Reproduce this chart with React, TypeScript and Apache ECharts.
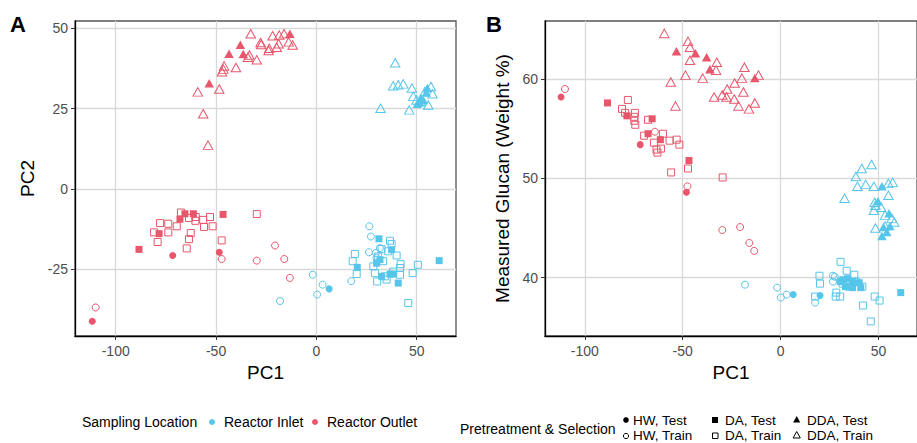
import React, { useEffect, useRef } from "react";
import * as echarts from "echarts";

const RED = "#E8566C";
const BLUE = "#56C5EA";
const FONT = '"Liberation Sans", Arial, sans-serif';

const X_TICKS = [-100, -50, 0, 50];
const YA_TICKS = [-25, 0, 25, 50];
const YB_TICKS = [40, 50, 60];

// ---------- Panel A: PC1 vs PC2 ----------
const aOutletDDATrain = [[-32.7,48.3],[-27.8,45.6],[-27.5,45.0],[-21.8,47.7],[-18.5,47.9],[-16.1,48.3],[-18.8,45.2],[-19.8,44.1],[-23.5,43.8],[-23.8,43.1],[-13.8,45.8],[-11.8,44.8],[-33.4,41.7],[-34.1,41.0],[-29.7,40.2],[-40.1,37.8],[-46.0,38.3],[-46.4,37.3],[-47.0,36.5],[-48.4,31.1],[-59.1,30.2],[-56.4,23.4],[-54.0,13.6]];
const aOutletDDATest = [[-13.2,48.3],[-37.9,44.9],[-43.5,42.1],[-36.4,42.0],[-53.4,32.9]];
const aInletDDATrain = [[39.3,39.3],[32.0,25.1],[38.3,32.1],[40.8,32.4],[43.3,32.7],[47.6,31.4],[48.3,28.8],[46.3,24.6],[57.1,31.9],[57.9,29.6],[55.8,26.1],[52.0,27.2],[50.0,27.7],[54.1,30.3]];
const aInletDDATest = [[55.3,31.4],[52.0,28.3],[50.3,26.5],[53.3,27.7],[54.8,30.0],[51.5,27.0]];
const aOutletDATrain = [[-67.5,-7.4],[-63.5,-9.1],[-60.1,-8.8],[-56.4,-9.7],[-53.0,-8.8],[-60.3,-10.0],[-29.7,-7.9],[-77.9,-10.7],[-73.8,-10.9],[-69.6,-11.7],[-56.0,-11.9],[-51.7,-11.7],[-80.9,-13.6],[-73.8,-13.6],[-62.6,-13.8],[-63.5,-15.7],[-79.1,-16.6],[-47.2,-16.1],[-64.6,-18.6]];
const aOutletDATest = [[-65.5,-7.8],[-61.3,-7.8],[-68.0,-9.5],[-46.5,-8.0],[-78.4,-14.0],[-88.4,-18.9]];
const aOutletHWTrain = [[-47.2,-21.9],[-29.7,-22.4],[-20.6,-17.7],[-16.0,-21.9],[-13.2,-27.8],[-110.0,-37.0]];
const aOutletHWTest = [[-71.6,-20.8],[-48.4,-19.8],[-111.7,-41.3]];
const aInletHWTrain = [[26.4,-11.7],[27.2,-14.9],[26.2,-19.8],[-1.8,-26.8],[3.1,-29.9],[0.4,-33.0],[-18.1,-35.0],[17.4,-28.8],[29.7,-20.0],[31.7,-18.5],[30.0,-21.5]];
const aInletHWTest = [[6.4,-31.2]];
const aInletDATrain = [[36.7,-16.2],[37.5,-17.2],[19.2,-20.3],[18.1,-22.6],[20.1,-26.6],[40.0,-20.8],[42.0,-23.5],[41.7,-24.7],[50.6,-23.7],[48.0,-26.3],[28.4,-24.2],[29.2,-26.3],[30.3,-28.9],[35.0,-28.3],[45.8,-35.6],[30.8,-21.1],[33.3,-22.6],[35.8,-19.5],[38.3,-25.8],[32.5,-18.8],[34.2,-27.3],[41.7,-26.8]];
const aInletDATest = [[31.2,-15.6],[37.5,-19.0],[20.4,-24.5],[31.7,-22.1],[32.5,-27.3],[36.7,-26.6],[38.3,-26.6],[40.8,-29.4],[61.2,-22.4],[30.0,-23.2]];

// ---------- Panel B: PC1 vs Measured Glucan ----------
const bOutletDDATrain = [[-59.4,64.6],[-47.3,63.8],[-46.3,63.2],[-46.3,61.9],[-48.6,60.4],[-56.1,59.7],[-53.7,57.3],[-39.8,60.1],[-32.6,61.7],[-33.0,60.9],[-18.5,61.2],[-19.8,60.1],[-11.3,60.4],[-23.5,59.6],[-27.3,59.0],[-19.0,58.7],[-34.0,58.2],[-29.8,58.4],[-27.6,58.2],[-23.7,58.0],[-21.5,57.3],[-16.2,57.0],[-13.2,57.6]];
const bOutletDDATest = [[-53.2,62.8],[-43.5,62.6],[-37.8,62.2],[-36.1,61.0],[-13.2,60.1]];
const bOutletDATrain = [[-78.0,57.9],[-81.0,57.0],[-79.4,56.6],[-74.4,56.6],[-74.7,56.2],[-74.7,55.8],[-74.2,55.4],[-67.7,55.9],[-60.1,54.5],[-64.7,53.6],[-63.4,52.9],[-62.9,52.6],[-61.1,53.0],[-56.7,53.8],[-53.1,53.9],[-51.7,53.4],[-69.7,54.3],[-47.3,51.0],[-55.9,50.6],[-29.6,50.1]];
const bOutletDATest = [[-88.4,57.6],[-78.5,56.3],[-65.6,56.0],[-67.7,54.5],[-61.4,53.9],[-46.8,51.8]];
const bOutletHWTrain = [[-110.1,59.0],[-64.2,54.7],[-47.6,49.2],[-29.8,44.8],[-20.7,45.1],[-16.0,43.5],[-13.5,42.7]];
const bOutletHWTest = [[-112.1,58.2],[-71.7,53.4],[-48.1,48.6]];
const bInletHWTrain = [[-1.8,39.0],[0.1,38.0],[3.1,38.3],[17.6,37.5],[-18.2,39.3],[26.7,40.2],[27.6,40.1],[26.7,39.6]];
const bInletHWTest = [[6.4,38.3],[20.1,38.2]];
const bInletDATrain = [[30.6,41.6],[19.8,40.2],[20.1,39.4],[17.6,38.1],[33.7,40.7],[37.6,40.3],[41.7,39.1],[28.4,38.5],[30.4,38.1],[28.1,38.1],[42.0,37.2],[48.0,38.1],[50.5,37.7],[46.0,35.6],[31.7,39.4],[35.1,39.1],[38.4,39.6]];
const bInletDATest = [[61.3,38.5],[31.7,39.8],[34.2,39.9],[36.7,39.6],[40.1,39.5],[33.1,39.1],[40.9,39.0],[36.7,39.0],[30.4,39.6]];
const bInletDDATrain = [[46.4,51.4],[41.4,51.0],[38.4,50.2],[39.2,49.2],[43.4,49.4],[47.6,49.2],[55.0,49.5],[57.2,49.6],[32.6,48.0],[55.0,48.3],[48.0,47.6],[48.4,47.3],[51.3,47.1],[47.6,46.8],[53.3,46.3],[56.7,46.0],[58.0,45.6],[48.4,45.0],[53.3,45.2]];
const bInletDDATest = [[51.7,49.2],[49.7,47.7],[55.3,46.5],[52.5,45.1],[55.8,45.2],[51.7,44.2],[54.2,44.6]];

const LOC_LABELS = ["Reactor Inlet", "Reactor Outlet"];
const SHAPE_LABELS = [["HW, Test", "DA, Test", "DDA, Test"], ["HW, Train", "DA, Train", "DDA, Train"]];

function mk(data: number[][], idx: number, color: string, shape: string, filled: boolean) {
  return {
    type: "scatter",
    xAxisIndex: idx,
    yAxisIndex: idx,
    data,
    symbol: shape,
    symbolSize: shape === "triangle" ? [9.5, 8.5] : 7,
    silent: true,
    itemStyle: filled
      ? { color, opacity: 1 }
      : { color: "rgba(255,255,255,0)", borderColor: color, borderWidth: 1, opacity: 1 },
  };
}

function xAxis(gi: number) {
  return {
    type: "value",
    gridIndex: gi,
    min: -120.3,
    max: 69.6,
    name: "PC1",
    nameLocation: "middle",
    nameGap: 27,
    nameTextStyle: { fontSize: 19, color: "#000", fontFamily: FONT },
    axisLine: { show: true, onZero: false, lineStyle: { color: "#000", width: 1.3 } },
    axisTick: { show: true, length: 4, lineStyle: { color: "#333" }, customValues: X_TICKS },
    axisLabel: { customValues: X_TICKS, color: "#4d4d4d", fontSize: 14, margin: 8, fontFamily: FONT },
    splitLine: { show: true, lineStyle: { color: "#d9d9d9", width: 1.3 } },
  };
}

function yAxis(gi: number, min: number, max: number, ticks: number[], name: string, gap: number) {
  return {
    type: "value",
    gridIndex: gi,
    min,
    max,
    name,
    nameLocation: "middle",
    nameGap: gap,
    nameTextStyle: { fontSize: 19, color: "#000", fontFamily: FONT },
    axisLine: { show: true, onZero: false, lineStyle: { color: "#000", width: 1.3 } },
    axisTick: { show: true, length: 4, lineStyle: { color: "#333" }, customValues: ticks },
    axisLabel: { customValues: ticks, color: "#4d4d4d", fontSize: 14, margin: 7, fontFamily: FONT },
    splitLine: { show: true, lineStyle: { color: "#d9d9d9", width: 1.3 } },
  };
}

export default function App() {
  const ref = useRef<HTMLDivElement>(null);
  useEffect(() => {
    if (!ref.current) return;
    const chart = echarts.init(ref.current, undefined, { renderer: "svg" });
    const series = [
      mk(aOutletDDATrain, 0, RED, "triangle", false),
      mk(aInletDDATrain, 0, BLUE, "triangle", false),
      mk(aOutletDATrain, 0, RED, "rect", false),
      mk(aInletDATrain, 0, BLUE, "rect", false),
      mk(aOutletHWTrain, 0, RED, "circle", false),
      mk(aInletHWTrain, 0, BLUE, "circle", false),
      mk(aOutletDDATest, 0, RED, "triangle", true),
      mk(aInletDDATest, 0, BLUE, "triangle", true),
      mk(aOutletDATest, 0, RED, "rect", true),
      mk(aInletDATest, 0, BLUE, "rect", true),
      mk(aOutletHWTest, 0, RED, "circle", true),
      mk(aInletHWTest, 0, BLUE, "circle", true),
      mk(bOutletDDATrain, 1, RED, "triangle", false),
      mk(bInletDDATrain, 1, BLUE, "triangle", false),
      mk(bOutletDATrain, 1, RED, "rect", false),
      mk(bInletDATrain, 1, BLUE, "rect", false),
      mk(bOutletHWTrain, 1, RED, "circle", false),
      mk(bInletHWTrain, 1, BLUE, "circle", false),
      mk(bOutletDDATest, 1, RED, "triangle", true),
      mk(bInletDDATest, 1, BLUE, "triangle", true),
      mk(bOutletDATest, 1, RED, "rect", true),
      mk(bInletDATest, 1, BLUE, "rect", true),
      mk(bOutletHWTest, 1, RED, "circle", true),
      mk(bInletHWTest, 1, BLUE, "circle", true),
    ];
    const legFont = `14px ${FONT}`;
    const rowFont = `13.5px ${FONT}`;
    const t = (text: string, x: number, y: number, font = legFont) => ({
      type: "text",
      x,
      y,
      silent: true,
      style: { text, font, fill: "#000", align: "left", verticalAlign: "middle" },
    });
    const r1 = 420.5;
    const r2 = 435.5;
    const graphic: any[] = [
      t("A", 10, 24, `bold 22px ${FONT}`),
      t("B", 486, 24, `bold 22px ${FONT}`),
      t("Sampling Location", 82, 422),
      { type: "circle", shape: { cx: 212, cy: 422, r: 3 }, style: { fill: BLUE } },
      t(LOC_LABELS[0], 224, 422),
      { type: "circle", shape: { cx: 315, cy: 422, r: 3 }, style: { fill: RED } },
      t(LOC_LABELS[1], 327, 422),
      t("Pretreatment & Selection", 460, 429),
      { type: "circle", shape: { cx: 626, cy: 420, r: 2.8 }, style: { fill: "#000" } },
      { type: "circle", shape: { cx: 626, cy: 436, r: 2.6 }, style: { fill: "none", stroke: "#000", lineWidth: 1 } },
      { type: "rect", shape: { x: 712, y: 417, width: 6, height: 6 }, style: { fill: "#000" } },
      { type: "rect", shape: { x: 712.5, y: 433, width: 5.5, height: 5.5 }, style: { fill: "none", stroke: "#000", lineWidth: 1 } },
      { type: "polygon", shape: { points: [[796.7, 416], [800.3, 422.5], [793.1, 422.5]] }, style: { fill: "#000" } },
      { type: "polygon", shape: { points: [[796.7, 431.5], [800.3, 438], [793.1, 438]] }, style: { fill: "none", stroke: "#000", lineWidth: 1 } },
      t(SHAPE_LABELS[0][0], 633, r1, rowFont),
      t(SHAPE_LABELS[0][1], 725, r1, rowFont),
      t(SHAPE_LABELS[0][2], 807, r1, rowFont),
      t(SHAPE_LABELS[1][0], 633, r2, rowFont),
      t(SHAPE_LABELS[1][1], 725, r2, rowFont),
      t(SHAPE_LABELS[1][2], 807, r2, rowFont),
    ];
    chart.setOption({
      animation: false,
      backgroundColor: "#fff",
      textStyle: { fontFamily: FONT },
      grid: [
        { left: 75, top: 21, width: 381, height: 315, show: true, borderColor: "#555", borderWidth: 1.3, backgroundColor: "transparent" },
        { left: 545, top: 21, width: 381, height: 315, show: true, borderColor: "#555", borderWidth: 1.3, backgroundColor: "transparent" },
      ],
      xAxis: [xAxis(0), xAxis(1)],
      yAxis: [
        yAxis(0, -45.9, 52.3, YA_TICKS, "PC2", 38),
        yAxis(1, 34.13, 65.85, YB_TICKS, "Measured Glucan (Weight %)", 33),
      ],
      series,
      graphic,
    });
    return () => chart.dispose();
  }, []);
  return (
    <div
      ref={ref}
      style={{ position: "fixed", left: 0, top: 0, width: 917, height: 443, background: "#fff" }}
    />
  );
}
